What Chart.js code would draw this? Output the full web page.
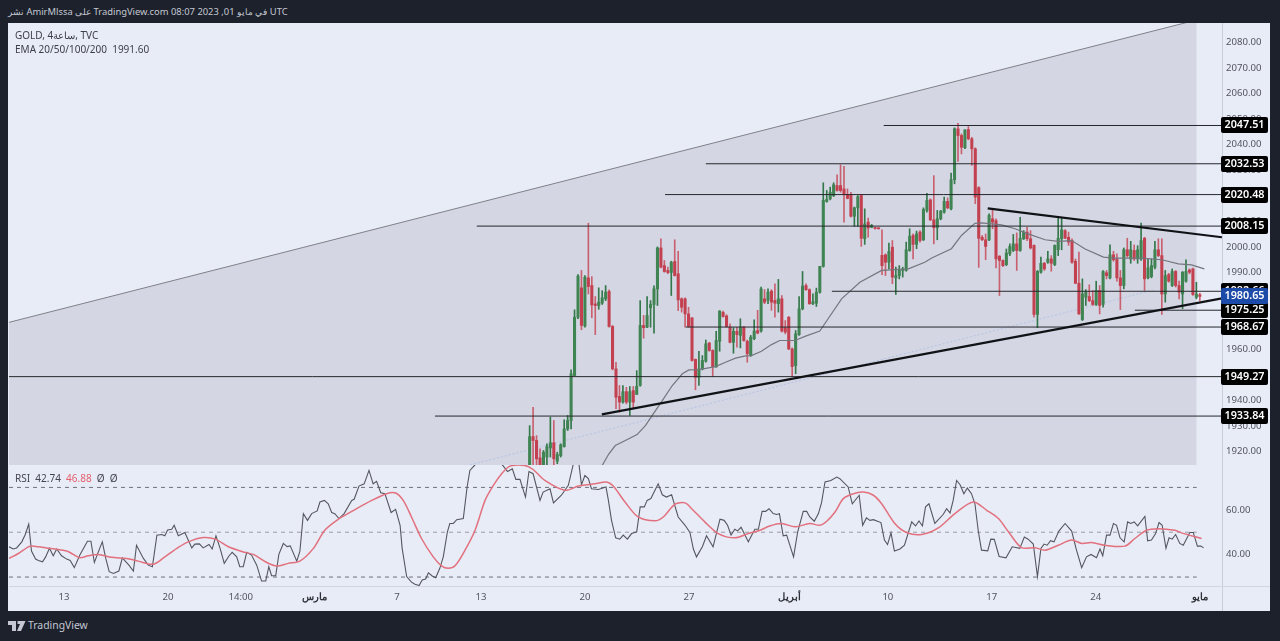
<!DOCTYPE html>
<html lang="ar"><head><meta charset="utf-8">
<style>
html,body{margin:0;padding:0;width:1280px;height:641px;overflow:hidden;background:#1c212c;font-family:"Noto Sans","Liberation Sans",sans-serif}
.abs{position:absolute}
#panel{left:8px;top:23px;width:1262px;height:588px;background:#e8ecf6}
#vline{left:1222px;top:465px;width:1px;height:146px;background:#c9cdd9}
#hline{left:9px;top:586px;width:1261px;height:1px;background:#d3d6e1}
#head{left:8px;top:5px;font-size:9.4px;color:#c5c8d2;white-space:nowrap;direction:ltr}
#l1,#l2,#l3{left:15px;font-size:10px;color:#3c3f4a;white-space:nowrap;direction:ltr}
#l1{top:28px}#l2{top:42px}#l3{top:471px;color:#44474f}
#l3 .r{color:#e5606f}
#foot{left:28px;top:618px;font-size:10.4px;color:#c5c8d2}
#logo{left:8px;top:621px}
canvas{position:absolute}
</style></head><body>
<div class="abs" id="panel"></div>
<div class="abs" id="vline"></div>
<div class="abs" id="hline"></div>
<div class="abs" id="head">نشر AmirMlssa على TradingView.com 08:07 2023 ,01 في مايو UTC</div>
<canvas id="price" width="1261" height="442" style="left:9px;top:23px;width:1261px;height:442px"></canvas>
<canvas id="rsi" width="1261" height="146" style="left:9px;top:465px;width:1261px;height:146px"></canvas>
<div class="abs" id="l1">GOLD, 4ساعة, TVC</div>
<div class="abs" id="l2">EMA 20/50/100/200&nbsp; 1991.60</div>
<div class="abs" id="l3">RSI&nbsp; 42.74&nbsp; <span class="r">46.88</span>&nbsp; Ø&nbsp; Ø</div>
<svg class="abs" id="logo" width="18" height="10" viewBox="0 0 18 10"><path fill="#c5c8d2" d="M0 0h8v10H4V4H0zM9.5 0h8L13 10H9l3-7H9.5z"/></svg>
<div class="abs" id="foot">TradingView</div>
<script src="https://cdn.jsdelivr.net/npm/chart.js@4/dist/chart.umd.min.js"></script>
<script>
// ---- data ----
const firstBar = 151;
const highs = [1930.1,1937.3,1926.2,1921,1920.4,1923,1933.4,1932.1,1919.7,1923,
1932.4,1934.1,1951.9,1975.4,1989.2,1990.8,1988.8,2009.3,1988.4,1980.6,
1984,1982.9,1984.9,1983.2,1969.3,1954.9,1945.8,1945.8,1945.1,1945.4,
1945.4,1951.6,1979,1973.2,1980.6,1979,1984.8,2000,2003.2,1994.7,
1992.1,1994.4,2002.8,1998.3,1980.1,1980.1,1976.4,1972.3,1956.2,1959.2,
1957.5,1963.6,1962.7,1959.8,1967,1975.1,1974.9,1973.5,1969.9,1968.4,
1968.6,1971.9,1968.9,1963.6,
1965.4,1971.5,1975.2,1984.3,1983.3,1983.6,
1983.3,1985.6,1987.3,1981,1971.2,1972.8,1960.5,1967.3,1980.6,1990.4,
1985.6,1983.6,1981.7,1983.9,1992.4,2025.1,2022.1,2023.4,2025.1,2028.2,
2032.1,2031.5,2022.7,2021.4,2015.6,2020.1,2020.5,2014.9,2011.3,2008.8,
2007.7,2007.5,2006.7,1997.3,2001.5,2002.5,1992.1,1992.7,1992.1,2001.9,
2007.1,2005.1,2006.2,2006.4,2015.3,2021,2018.8,2027.9,2014.3,2014.3,
2019.5,2019.2,2028.9,2046.6,2048.4,2044.2,2045.8,2047.1,2042.9,2038.8,
2023.6,2004.5,2005.1,2013,2014.6,2011,1996.6,1995,1999.2,2001.2,
2004.9,2005.5,2011.6,2006.4,2007.7,2006.4,2000.8,1990.8,1996,1994,
1998.3,1996.6,2000.8,2011.2,2011.6,2006.8,2005.8,2003.2,1995.3,1998,
1987.5,1983.3,1985.2,1983,1986.6,1984.9,1990.8,1990.8,2000.8,1998.3,
1997.3,1990.8,1999.6,2003.4,2002.2,2000.8,2000.5,2009.3,2003.8,1995.3,
1995.3,2002.2,2003.2,2003.2,1990.8,1989.7,1991.4,1990.8,1986.6,1990.4,
1995,1991.4,1991.7,1986.2,1981.9];
const opens = [1911.2,1925.8,1924.3,1917.5,1913.2,1917.8,1921.4,1923.4,1916.2,1918.4,
1921.9,1928.8,1932.1,1949.7,1972.5,1984,1969,1987.9,1984.9,1977.7,
1977.1,1978,1979.7,1982.6,1968.9,1952.3,1941.5,1939.3,1943.4,1939.3,
1943.8,1942.3,1945.8,1969.3,1968.6,1976.2,1977.5,1983.6,1999.6,1992.7,
1990.8,1990,1994.3,1989.5,1979.7,1979.7,1973.8,1972.3,1956,1949,
1952.3,1955.3,1962.4,1959.5,1953,1963.1,1974.4,1973,1968.6,1962.7,
1967,1965.4,1968.6,1963.1,
1957.5,1964.1,1967.3,1967.1,1979.7,1979.1,
1982.7,1979.1,1977.8,1979.7,1968.4,1972.5,1960.1,1953.6,1965.7,1975.8,
1984.9,1983.3,1977.8,1978,1982.3,1992.4,2017.8,2018.8,2020.1,2024,
2024,2022.7,2020.5,2020.5,2012,2015.3,2020.1,2003.2,2009.7,2007.7,
2007.5,2007.3,1996.7,1996.9,1994,1999.9,1987.9,1988.8,1990.8,1990.8,
1998.6,2004.5,2001,2005.8,2002.8,2014.3,2018.4,2010.6,2007.5,2011,
2013.6,2017.8,2014.9,2026.3,2046.2,2043.6,2038.8,2045.9,2042.3,2038.4,
2023.2,2003.8,2002.8,2002.8,2011,2010.3,1996.4,1994.7,1993.1,1997.3,
1998.6,2001.2,1998.6,2003.2,2005.8,2003.2,2000.6,1973.6,1990.1,1993.6,
1994,1995.3,1993.1,1998.9,2003.2,2006.4,2003.8,2002.5,1994.4,1985.8,
1971.6,1980.3,1980.6,1979,1977.5,1983,1977.5,1989.9,1987.9,1996.9,
1995.3,1987.9,1984.9,1998.9,1995.3,1998.6,1995.3,1995.3,2003.4,1987.9,
1988.4,1992.1,1998.9,1996.6,1981.6,1989.2,1984.9,1990.4,1984.9,1981.6,
1986.6,1991,1991.4,1980.3,1981.3];
const closes = [1925.8,1924.3,1917.1,1913.2,1919.7,1921.9,1923.4,1917.1,1918.8,1922.6,
1928.8,1932.1,1950.4,1972.5,1988.6,1969.3,1988.2,1984.5,1977.3,1977.1,
1978.4,1980.1,1982.3,1968.9,1952.3,1941.2,1939.3,1943.4,1939.3,1943.4,
1939.3,1945.5,1969.3,1968.4,1973.2,1977.5,1983.6,1999.6,1992.1,1990.4,
1990,1994,1988.8,1979.3,1976.4,1973.8,1968.9,1955.6,1949,1952.3,
1955.6,1962.1,1959.5,1953.2,1963.4,1974.9,1972.8,1968.9,1962.7,1967,
1965.7,1968.6,1963.4,1958.2,
1964.7,1967.1,1966.3,1983.6,1978.4,1982.3,
1978.4,1978,1979.7,1967.1,1966.7,1960.1,1953.2,1966,1975.8,1984.7,
1983.3,1977.8,1978.6,1982.3,1992.4,2018.2,2018.6,2021.4,2024.3,2022.1,
2022.1,2020.5,2019,2012,2015.3,2019.7,2003.4,2009,2007.4,2008.4,
2007.2,2007.1,1992.7,1994,1998.2,1988.2,1988.8,1991,1991.4,1998.9,
2004.2,2001,2005.1,2002.5,2014.6,2018.2,2010.6,2007.5,2011,2014,
2017.8,2015.3,2026.3,2046.2,2043.6,2039,2045.8,2042.3,2038.4,2019.5,
2003.4,2002.8,2000.2,2012.3,2009.7,1995.3,1994.7,1992.7,1997.6,2000.2,
2001.2,1998.6,2003.4,2005.8,2003.2,1999.6,1973.6,1990.4,1993.6,1991.4,
1995.3,1993.6,2000.6,2003.4,2006.7,2003.4,2001.9,1994,1985.8,1973.8,
1981.6,1982.3,1979,1977.5,1983,1977.1,1990.4,1988.8,1996.9,1995,
1987.9,1984.9,1998.9,1996.6,1998.9,1995.3,1998.9,2002.5,1987.5,1991.8,
1992.7,1998.9,1996.6,1981.6,1988.8,1986.6,1990.4,1984.9,1982.3,1990.1,
1990.4,1990.1,1981.4,1981.6,1980.65];
const lows = [1910,1911.2,1913.8,1911.9,1911.9,1913.8,1917.8,1913.2,1915.2,1917.8,
1921.7,1928.2,1928.8,1949.7,1971.9,1967.6,1968.6,1981.6,1972.3,1965.7,
1975.6,1977.5,1979,1968.6,1951.9,1936.7,1935.4,1938.9,1938.6,1934.1,
1937,1942.3,1945.5,1964.3,1968.4,1968.6,1966.3,1977.1,1991.8,1990.1,
1989.5,1981,1988.6,1975.1,1974.5,1968.6,1968.6,1955.3,1944.1,1945.8,
1951.9,1954.9,1959.2,1949.3,1953,1959.2,1972.5,1968.6,1962.5,1958.4,
1960.8,1960.5,1963.1,1954.9,
1957.2,1963.7,1966,1966.7,1977.8,1977.8,
1975.2,1972.5,1974.5,1966.7,1966,1959.8,1949.3,1950.4,1965.4,1975.4,
1983,1977.5,1977.4,1976.7,1981.9,1992.1,2017.5,2018.4,2019.7,2021.8,
2021.4,2009.7,2018.8,2011.6,2008,2008,2000.2,2001,2003.8,2007.5,
2007,2007,1989.2,1988.8,1991.4,1985.6,1981.4,1987.5,1988.2,1990.5,
1998.3,1995.3,1999.3,2001.9,2002.5,2013.6,2010.3,2001.2,2002.8,2010.6,
2013.2,2014.9,2014.5,2024.7,2033.5,2036.4,2038.4,2041.9,2031.9,2016.9,
1992,2002.5,1995,2002.5,2007.1,1991.8,1981,1992.3,1992.7,1996.6,
1998.2,1990.8,1998.3,2002.9,2002.5,1999.2,1972.5,1968.4,1989.7,1990.8,
1993.6,1990.5,1992.7,1996.6,1998.9,2003.2,2000.6,1993.6,1985.6,1973.6,
1971.2,1977.1,1978.6,1977.1,1977.1,1973.8,1976.4,1987.5,1987.5,1994.4,
1986.6,1975.5,1983.6,1996,1993.6,1994.7,1993.6,1994.7,1983,1987.5,
1987.9,1991.4,1996.2,1973.6,1978.4,1986.2,1984.5,1984.3,1979.7,1975.8,
1986.2,1989.5,1981,1979.7,1979];

const emaBars = [172,173.9,175.8,178.7,182.1,184.5,186.5,189.4,192.3,195.2,197.1,200,204.8,207.7,210.6,213.5,215.2,218.1,221,223.4,227.8,230.7,235,237.4,241.3,246.6,252.9,260.6,265.4,267.4,273.1,276,279.9,281.8,284.7,287.6,291.5,295.3,300.2,304,307.9,311.8,317.1,320,328.2,334,338.8,342.6,346.3];
const emaValues = [1914.5,1919,1922.3,1924.3,1926.6,1930.1,1934.1,1939.9,1945.8,1950.4,1951.9,1952,1953.2,1954.9,1956.5,1957.4,1957.5,1959.2,1961.8,1963.4,1963.4,1965,1967.1,1971.9,1979.7,1986.2,1990.8,1991.4,1994,1995.7,1999.3,2004.5,2009.2,2009.4,2009,2008.6,2007.1,2005.1,2002.8,2002.2,2002.5,1999.2,1996,1995.6,1995.6,1995,1993.4,1993,1991.4];

const rsiBars = [0.3,1.5,2.5,4,5,6,6.8,8,8.8,10,10.9,12,13.1,14.1,15.5,17,18,19.2,20.8,23,24,25,26.6,27.3,28.3,29.3,30.5,32.1,33.1,35,36.3,37.2,39.2,40.6,41.8,43.1,44.5,45.4,46.2,47.4,48.1,49.3,51.2,53.2,54.1,55.4,56.5,58.2,59.1,60.2,61.4,62.6,64,64.9,66.2,67.1,68.1,69.1,70.5,72,73.4,74.6,75.5,76.3,77.5,78.4,79.7,80.8,81.7,83.6,84.5,85.5,86.7,87.9,89.5,90.3,91.6,92.7,93.7,94.6,95.8,97.3,99.5,100.2,101.6,103.1,104.5,105.7,106.7,107.9,109.1,110.9,112.2,113.5,114.1,115.4,
116.8,117.8,119,119.9,120.9,121.7,122.8,123.8,125,126,127.2,127.9,128.9,129.9,131.8,132.9,133.7,135.2,138.1,141,143.4,144.6,146,147,148.2,149.8,150.8,152,154,154.9,156.9,157.9,160.2,162.2,163.6,164.3,165.3,166,167,168,168.9,170.9,173.1,173.8,174.7,175.9,177.1,178.1,179.3,180.5,182,183,184.2,185,186.1,188.2,189.4,190.6,192.1,194,196,197.4,198.4,199.3,201,202.2,204.1,206.1,207.3,208.3,209.3,210.4,211.2,212.2,214.3,216.2,217.2,218.3,219.3,220.3,221.5,222.5,223.3,224.4,225.4,227.4,228.6,230.2,231.2,232.1,
233.4,234.6,235.5,236.5,238.2,239.9,240.8,243.2,244.4,246.4,247.4,248.5,249.5,250.5,252.7,253.7,254.6,255.6,256.6,258.2,259.5,261.6,262.7,263.7,264.7,265.6,266.6,268.3,270.7,271.7,272.7,273.6,274.6,275.6,276.7,277.7,278.9,279.9,280.9,281.8,283.6,284.5,285.5,286.9,288.9,290.7,292.9,294.2,295.3,296.8,298,299,299.9,300.8,301.8,302.8,304.2,306,307.9,309.3,310.8,312.2,313.5,315.1,316.1,316.9,318,319,320,320.9,321.9,323.1,324.1,325,326,327,329.1,329.9,331,332.2,333.2,334.1,335.2,336.1,337,338,339.2,340.2,342.1,343.1,344.3,345.3,346.1];
const rsiValues = [43.5,42.5,43,45.7,49,53.6,41.6,38,37.4,36.8,39,42.8,39.5,42.5,39.5,38,37.4,34.2,39.8,46,46,36.5,43,45.7,38.3,32.4,31.6,32.7,38.6,35.3,32.7,44.2,38.3,35.3,34.6,48.7,49,48.4,51,51.3,53.1,48.4,49.9,43,44.7,44.8,43,44.5,42.5,48.4,42.8,36.1,39.5,41,39,34.6,34.6,41,39.8,35.3,28.2,28.2,34.6,30.6,30.6,40.1,45,43.6,43.9,37.1,41.6,58.3,55.3,58.3,59.5,63.5,64.2,62.7,58.8,58.3,56.1,58.3,64.2,64.7,70.6,71.6,77.6,71.6,72.7,67.6,67.2,58.8,60.2,53.1,42.8,30.2,
27.7,26.8,26.2,28.7,29.1,31.9,30.5,29.7,33.9,39,50.2,53.9,53.9,55.6,56.1,70.2,77.6,80.1,84.2,83.5,79.5,77.1,78.3,73.6,73.6,65.7,77.1,76.1,64.2,67.9,69.4,63.1,66.5,70.9,80.1,82.7,80.1,71.2,75.3,73.9,69.4,69.1,70.2,64.2,55.3,47.5,46.9,48.7,46.9,49.4,50.2,61.3,61.3,64.2,65,71.6,66.7,65.7,66.7,56.8,53.1,49.9,42.5,39,43.5,48.4,43.5,55.8,55.3,53.1,48.7,51.3,50.6,52.2,45.7,51.3,51.3,59.3,59.3,60.5,58.3,57.9,58.3,48.4,48.7,39,50.2,59.3,59.3,56.8,
54.9,58.3,63.2,72.4,73.1,74.6,73.9,70.2,62.7,66.5,53.1,56.4,55.3,55.6,54.3,46.5,44.5,49.7,41.6,42.5,44.2,54.6,52.8,55,52.8,61.3,62.7,53.9,57.9,60.5,58.6,64.2,73.1,71.2,67.2,69.7,67.2,62.7,50.2,42,41.7,46.9,46.8,39.2,38.6,43.5,42.8,47.9,46.9,44.7,30.2,42.8,44.7,44.2,46.2,45.7,50.5,53.9,50.5,42,34.2,39,40.1,38.6,42.5,39.5,48.7,48.7,53.9,53.1,47.5,45.7,54.6,53.9,54.6,52.8,57.1,46.2,46.5,49.4,54.3,53.1,42.8,47.5,46.9,49,45,44.2,49.9,49.9,43.8,43.8,43];

const rsiMaBars = [0.3,3,6.4,8.8,11.2,13.6,17,18.9,20.8,23.2,26.1,30,34.3,37.7,42.1,45.4,49.3,52.2,56.5,60,63.8,68.6,71,74.9,77.8,81.1,84.5,88.4,91.7,95.6,99.5,105.3,109.6,112.2,114.4,116.8,119.7,123.1,125.5,127.4,129.4,132.3,135.2,138.1,140.5,142.9,145.3,149.6,152,155.4,161.2,165.1,169.9,173.3,175.2,178.6,182.4,187.3,189.7,193.1,196,197.9,201.7,205.6,210.4,214.3,217.7,220.5,223.9,227.8,232.1,235,237,239.4,241.8,244.7,247.6,250.5,252.9,256.7,260.1,264.5,269.3,274.1,279.4,283.3,286.7,289.6,293.4,297.3,300.2,304,307.9,310.8,313.7,317.5,323.3,326.2,329.6,332.9,337.8,339.7,345.5];
const rsiMaValues = [38.3,40.5,43.8,43.5,43,42.5,41.6,40.1,38.6,39.5,40.1,38.8,38.3,37.1,35.7,39,43.2,45.7,47.6,46.9,43.5,41,40.1,36.5,34.9,36.1,37.1,42.8,50.9,55.8,59.3,64.2,67.2,67.5,64.2,56.8,47.2,39,35,33.9,35,42,50.9,64.2,70.9,76.1,79.5,79.8,78,73.1,68.7,70.6,71.6,72.4,70.6,63.5,56.8,55.1,56.8,62.5,63.1,60.5,54.6,49.4,47.5,49.4,50.9,52.8,53.9,52.4,53.9,53.1,54.9,59,65,67.2,67.9,66.5,62.7,53.9,49.9,49,51.9,58.3,63.5,59.8,56.1,50.2,43.1,43.1,42,44.2,46.5,45,45.4,44.2,43.8,47.2,50.9,51.6,50.9,49.7,47.2];

// horizontal levels: value and the bar each one starts from
const levelValues = [2047.51,2032.53,2020.48,2008.15,1982.66,1975.25,1968.67,1949.27,1933.84];
const levelStarts = [253.5,202,190.2,135.7,238.5,326.2,196.2,0.3,123.6];
const tagValues = [2047.51,2032.53,2020.48,2008.15,1982.66,1975.25,1968.67,1949.27,1933.84,1980.65];
const tagColors = ['#000','#000','#000','#000','#000','#000','#000','#000','#000','#1c4aa8'];
// drawing lines: [bar, price] ends
const channelBars = [0.3,344.1], channelValues = [1970.5,2088.8];
const supportBars = [171.9,351.4], supportValues = [1934.5,1979.9];
const resistBars = [283.6,351.4], resistValues = [2015.1,2003.8];
const dottedBars = [133.7,331.4], dottedValues = [1914.7,1983.1];
const priceTicks = [1920,1930,1940,1950,1960,1970,1980,1990,2000,2010,2020,2030,2040,2050,2060,2070,2080];
const rsiTicks = [40,60];
const rsiLevels = [70,50,30];
const dateBars = [16.2,46.3,67.4,88.6,112.6,136.9,167,197.1,226.3,254.7,284.8,314.9,345];
const dateLabels = ['13','20','14:00','مارس','7','13','20','27','أبريل','10','17','24','مايو'];
const boldDates = ['مارس','أبريل','مايو'];

// ---- layout constants ----
const xMin = 0.29, xMax = 351.42, axisW = 48;
const font = '"Noto Sans","Liberation Sans",sans-serif';
const zip = (a,b) => a.map((x,i)=>({x, y:b[i]}));
const line = (a,b,color,w,order,extra) => Object.assign({type:'line',data:zip(a,b),borderColor:color,borderWidth:w,pointRadius:0,tension:0,order},extra||{});
const up = closes.map((c,i)=>c>=opens[i]);
const noPad = s => {s.paddingTop=0;s.paddingBottom=0;s.paddingLeft=0;s.paddingRight=0;};

const tagPlugin = {id:'tags',afterDatasetsDraw(ch){
  const c=ch.ctx,y=ch.scales.y,a=ch.chartArea;
  c.save();c.font='600 10.8px '+font;c.textAlign='center';c.textBaseline='middle';
  tagValues.forEach((v,i)=>{
    const py=Math.round(y.getPixelForValue(v));
    c.fillStyle=tagColors[i];
    c.beginPath();c.roundRect(a.right-1,py-8,47,16,2);c.fill();
    c.fillStyle='#fff';c.fillText(v.toFixed(2),a.right+22.5,py);
  });
  c.restore();
}};

const priceDatasets = [
  line(channelBars,channelValues,'#7f8189',1,100,{fill:'start',backgroundColor:'#d4d7e3'}),
  line(dottedBars,dottedValues,'#b2c2e6',1,90,{borderDash:[2,2]}),
  {type:'bar',grouped:false,order:60,barThickness:1,
   data:highs.map((h,i)=>({x:firstBar+i,y:[lows[i],h]})),
   backgroundColor:up.map(u=>u?'#33774a':'#c9606f')},
  {type:'bar',grouped:false,order:50,barThickness:2.4,minBarLength:1,
   data:opens.map((o,i)=>({x:firstBar+i,y:[o,closes[i]]})),
   backgroundColor:up.map(u=>u?'#3f8452':'#c2404f')},
  line(emaBars,emaValues,'#74767e',1.2,40),
];
levelValues.forEach((v,i)=>priceDatasets.push(line([levelStarts[i],xMax],[v,v],'#26272c',1,30)));
priceDatasets.push(line(supportBars,supportValues,'#111216',2.2,20));
priceDatasets.push(line(resistBars,resistValues,'#111216',2.2,20));

new Chart(document.getElementById('price'),{
  data:{datasets:priceDatasets},
  plugins:[tagPlugin],
  options:{responsive:false,animation:false,devicePixelRatio:1,
    layout:{padding:0},
    plugins:{legend:{display:false},tooltip:{enabled:false}},
    scales:{
      x:{type:'linear',min:xMin,max:xMax,display:false,offset:false},
      y:{type:'linear',position:'right',min:1914.7,max:2087.6,
         grid:{display:false,drawTicks:false},border:{color:'#c9cdd9'},
         afterBuildTicks(s){s.ticks=priceTicks.map(value=>({value}))},
         afterFit(s){s.width=axisW;noPad(s)},
         ticks:{color:'#53565f',font:{size:9.6,family:font},padding:4,crossAlign:'near',callback:v=>v.toFixed(2)}}
    }}
});

const rsiDatasets = rsiLevels.map((v,i)=>line([xMin,344.1],[v,v],i===1?'#9a9ca4':'#70727b',1,40,{borderDash:[4,4]}));
rsiDatasets.push(line(rsiBars,rsiValues,'#55575f',1.1,20));
rsiDatasets.push(line(rsiMaBars,rsiMaValues,'#e2707e',1.5,10,{tension:0.3}));

new Chart(document.getElementById('rsi'),{
  data:{datasets:rsiDatasets},
  options:{responsive:false,animation:false,devicePixelRatio:1,
    layout:{padding:0},
    plugins:{legend:{display:false},tooltip:{enabled:false}},
    scales:{
      x:{type:'linear',min:xMin,max:xMax,offset:false,
         grid:{display:false,drawTicks:false},border:{display:false},
         afterBuildTicks(s){s.ticks=dateBars.map(value=>({value}))},
         afterFit(s){s.height=25;noPad(s)},
         ticks:{autoSkip:false,maxRotation:0,includeBounds:false,padding:6,
           callback:(v,i)=>dateLabels[i],
           color:c=>boldDates.includes(dateLabels[c.index])?'#2f3138':'#53565f',
           font:c=>({size:9.6,family:font,weight:boldDates.includes(dateLabels[c.index])?'600':'400'})}},
      y:{type:'linear',position:'right',min:26,max:80,
         grid:{display:false,drawTicks:false},border:{display:false},
         afterBuildTicks(s){s.ticks=rsiTicks.map(value=>({value}))},
         afterFit(s){s.width=axisW;noPad(s)},
         ticks:{color:'#53565f',font:{size:9.6,family:font},padding:4,crossAlign:'near',callback:v=>v.toFixed(2)}}
    }}
});
</script>
</body></html>
